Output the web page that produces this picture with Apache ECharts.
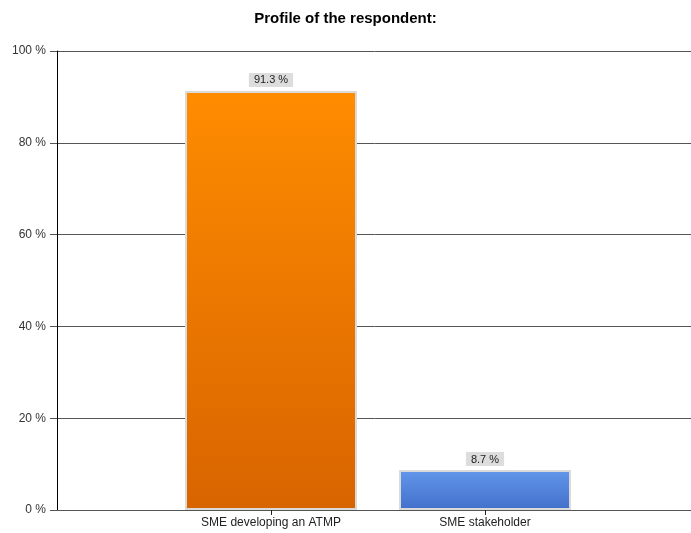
<!DOCTYPE html>
<html>
<head>
<meta charset="utf-8">
<script src="https://cdn.jsdelivr.net/npm/echarts@6/dist/echarts.min.js"></script>
<style>
  html, body { margin: 0; padding: 0; background: #fff; }
  #chart { width: 691px; height: 533px; }
</style>
</head>
<body>
<div id="chart"></div>
<script>
// Survey answers: respondent profile shares (percent)
const categories = ['SME developing an ATMP', 'SME stakeholder'];
const shares = [91.3, 8.7];
const yTicks = [0, 20, 40, 60, 80, 100];

const barColors = [
  ['#FF8C00', '#D86400'],
  ['#6297EA', '#4270CB']
];

// pad the category axis with empty slots on both sides
const axisCats = [''].concat(categories, ['']);
const seriesData = [null].concat(shares.map((v, i) => ({
  value: v,
  itemStyle: {
    color: new echarts.graphic.LinearGradient(0, 0, 0, 1, [
      { offset: 0, color: barColors[i][0] },
      { offset: 1, color: barColors[i][1] }
    ])
  }
})), [null]);

const chart = echarts.init(document.getElementById('chart'));
chart.setOption({
  animation: false,
  title: {
    text: 'Profile of the respondent:',
    left: 'center',
    top: 6,
    textStyle: { fontFamily: 'Liberation Sans', fontSize: 15, fontWeight: 'bold', color: '#000' }
  },
  grid: { left: 57, width: 642, top: 51, bottom: 23, containLabel: false, outerBoundsMode: 'none' },
  xAxis: {
    type: 'category',
    data: axisCats,
    boundaryGap: false,
    axisLine: { show: true, lineStyle: { color: '#555', width: 1 } },
    axisTick: {
      show: true,
      length: 5,
      interval: (idx, val) => val !== '',
      lineStyle: { color: '#222' }
    },
    axisLabel: {
      interval: 0,
      margin: 7,
      fontFamily: 'Liberation Sans',
      fontSize: 12,
      color: '#222'
    },
    splitLine: { show: false }
  },
  yAxis: {
    type: 'value',
    min: yTicks[0],
    max: yTicks[yTicks.length - 1],
    interval: yTicks[1] - yTicks[0],
    axisLine: { show: true, lineStyle: { color: '#000', width: 1 } },
    axisTick: { show: true, length: 7, lineStyle: { color: '#555' } },
    axisLabel: {
      formatter: '{value} %',
      margin: 11,
      fontFamily: 'Liberation Sans',
      fontSize: 12,
      color: '#333'
    },
    splitLine: { show: true, lineStyle: { color: '#555', width: 1 } }
  },
  series: [{
    type: 'bar',
    data: seriesData,
    barWidth: 172,
    itemStyle: { borderColor: '#DADADA', borderWidth: 2 },
    label: {
      show: true,
      position: 'top',
      distance: 4,
      formatter: p => p.value + ' %',
      backgroundColor: '#DDDDDD',
      padding: [2, 5, 1, 5],
      fontFamily: 'Liberation Sans',
      fontSize: 11,
      color: '#222'
    }
  }]
});
</script>
</body>
</html>
